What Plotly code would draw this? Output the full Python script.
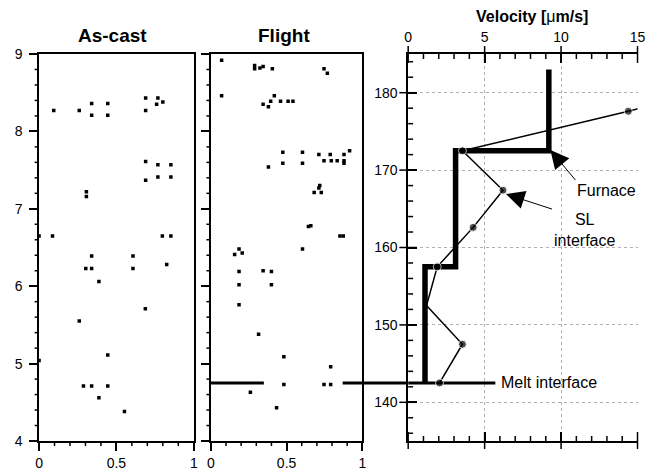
import plotly.graph_objects as go

# ---------------- data ----------------
ascast_x = [0.095, 0.26, 0.34, 0.34, 0.444, 0.444, 0.689, 0.689, 0.768, 0.76, 0.80,
            0.689, 0.689, 0.768, 0.768, 0.852, 0.852, 0.306, 0.306,
            0.0, 0.087, 0.797, 0.852, 0.34, 0.302, 0.34, 0.607, 0.607, 0.825,
            0.387, 0.687, 0.26, 0.444, 0.0, 0.287, 0.34, 0.444, 0.387, 0.552]
ascast_y = [8.27, 8.27, 8.36, 8.21, 8.36, 8.21, 8.43, 8.27, 8.43, 8.35, 8.38,
            7.61, 7.37, 7.57, 7.41, 7.57, 7.41, 7.22, 7.16,
            6.65, 6.65, 6.65, 6.65, 6.39, 6.23, 6.23, 6.39, 6.23, 6.28,
            6.06, 5.71, 5.55, 5.11, 5.04, 4.71, 4.71, 4.71, 4.56, 4.38]

flight_x = [0.071, 0.289, 0.289, 0.324, 0.345, 0.406, 0.747, 0.769,
            0.071, 0.345, 0.38, 0.395, 0.419, 0.46, 0.51, 0.542,
            0.475, 0.475, 0.605, 0.605, 0.38, 0.713, 0.788, 0.747, 0.795, 0.834,
            0.879, 0.879, 0.879, 0.916,
            0.719, 0.713, 0.682, 0.729, 0.644, 0.66, 0.852, 0.874,
            0.157, 0.186, 0.207, 0.605, 0.186, 0.345, 0.40, 0.186, 0.40, 0.186,
            0.315, 0.482, 0.791, 0.482, 0.747, 0.791, 0.261, 0.434]
flight_y = [8.92, 8.85, 8.81, 8.82, 8.84, 8.81, 8.81, 8.75,
            8.46, 8.35, 8.32, 8.39, 8.46, 8.39, 8.39, 8.39,
            7.73, 7.59, 7.73, 7.59, 7.54, 7.70, 7.70, 7.62, 7.62, 7.62,
            7.70, 7.62, 7.59, 7.75,
            7.30, 7.27, 7.21, 7.21, 6.77, 6.78, 6.65, 6.65,
            6.41, 6.48, 6.43, 6.48, 6.19, 6.20, 6.19, 6.02, 6.02, 5.76,
            5.38, 5.09, 4.96, 4.73, 4.73, 4.73, 4.63, 4.43]

furnace_v = [9.2, 9.2, 3.1, 3.1, 1.1, 1.1]
furnace_pos = [183.0, 172.5, 172.5, 157.5, 157.5, 142.5]

sl_v = [14.4, 3.55, 6.2, 4.25, 1.9, 1.2, 3.55, 2.05]
sl_pos = [177.6, 172.5, 167.4, 162.6, 157.5, 152.5, 147.5, 142.5]
sl_marker = [8, 8, 8, 8, 8, 0, 8, 8]
sl_tail_v = [14.4, 15.6]
sl_tail_pos = [177.6, 178.2]

melt_pos = 142.5          # velocity-panel position of melt interface
melt_flight = 4.75        # same position on the flight (mm) scale
melt_flight_seg1 = [0.0, 0.35]
melt_flight_seg2 = [0.87, 1.0]
melt_vel_seg = [0.0, 5.7]

left_major_x = [0, 0.5, 1]
left_major_x_text = ["0", "0.5", "1"]

FONT = "Liberation Sans, Arial, Helvetica, sans-serif"
W, H = 657, 471
ML, MR, MT, MB = 0, 0, 54, 28
PW, PH = W - ML - MR, H - MT - MB

dom1 = [35.7 / W, 193.3 / W]
dom2 = [210.7 / W, 365.0 / W]
dom3 = [411.7 / W, 645.3 / W]
xr_left = [0, 1]
yr_left = [4, 9]
xr_right = [0, 15]
yr_right = [135, 185]


def tick_vals(lo, hi, step, major=None):
    n = int(round((hi - lo) / step))
    vals = [round(lo + i * step, 6) for i in range(n + 1)]
    if major is None:
        return vals
    return [v for v in vals if abs(v / major - round(v / major)) > 1e-6]


def to_px(v, dom, rng):  # axis value -> paper fraction
    return dom[0] + (v - rng[0]) / (rng[1] - rng[0]) * (dom[1] - dom[0])


fig = go.Figure()

fig.add_trace(go.Scatter(x=ascast_x, y=ascast_y, mode="markers", xaxis="x", yaxis="y",
                         marker=dict(symbol="square", size=3.5, color="black"),
                         showlegend=False))
fig.add_trace(go.Scatter(x=flight_x, y=flight_y, mode="markers", xaxis="x2", yaxis="y2",
                         marker=dict(symbol="square", size=3.5, color="black"),
                         showlegend=False))
for seg in (melt_flight_seg1, melt_flight_seg2):
    fig.add_trace(go.Scatter(x=seg, y=[melt_flight] * 2, mode="lines", xaxis="x2", yaxis="y2",
                             line=dict(color="black", width=3), showlegend=False))
fig.add_trace(go.Scatter(x=melt_vel_seg, y=[melt_pos] * 2, mode="lines", xaxis="x3", yaxis="y3",
                         line=dict(color="black", width=3), showlegend=False))
fig.add_trace(go.Scatter(x=furnace_v, y=furnace_pos, mode="lines", xaxis="x3", yaxis="y3",
                         line=dict(color="black", width=5.5), showlegend=False))
fig.add_trace(go.Scatter(x=sl_tail_v, y=sl_tail_pos, mode="lines", xaxis="x3", yaxis="y3",
                         line=dict(color="black", width=1.5), showlegend=False))
fig.add_trace(go.Scatter(x=sl_v, y=sl_pos, mode="lines+markers", xaxis="x3", yaxis="y3",
                         line=dict(color="black", width=1.5),
                         marker=dict(size=sl_marker, color="black"), showlegend=False))

shapes = []
# gap piece of the melt interface line between flight and velocity panels
yp = to_px(melt_flight, [0, 1], yr_left)
shapes.append(dict(type="line", xref="paper", yref="paper", x0=dom2[1], x1=dom3[0], y0=yp, y1=yp,
                   line=dict(color="black", width=3)))


def xtick(v, dom, rng, y0px, y1px):
    x = to_px(v, dom, rng)
    shapes.append(dict(type="line", xref="paper", yref="paper", x0=x, x1=x,
                       y0=y0px / PH, y1=y1px / PH, line=dict(color="black", width=1.5), layer="above"))


def ytick(v, rng, xbase, x0px, x1px):
    y = to_px(v, [0, 1], rng)
    shapes.append(dict(type="line", xref="paper", yref="paper", x0=xbase + x0px / PW,
                       x1=xbase + x1px / PW, y0=y, y1=y,
                       line=dict(color="black", width=1.5), layer="above"))


# minor ticks, left panels
for dom in (dom1, dom2):
    for v in tick_vals(xr_left[0], xr_left[1], 0.1, 0.5):
        xtick(v, dom, xr_left, 0, -5)
    for v in tick_vals(yr_left[0], yr_left[1], 0.2, 1):
        ytick(v, yr_left, dom[0], -4.5, 0)
# velocity panel: minor ticks inside, major ticks crossing the axis lines
for v in tick_vals(xr_right[0], xr_right[1], 1, 5):
    xtick(v, dom3, xr_right, PH, PH - 5)
    xtick(v, dom3, xr_right, 0, 5)
for v in tick_vals(xr_right[0], xr_right[1], 5):
    xtick(v, dom3, xr_right, PH - 9, PH + 8)
    xtick(v, dom3, xr_right, -8, 9)
for v in tick_vals(yr_right[0] + 1, yr_right[1] - 1, 2, 10):
    ytick(v, yr_right, dom3[0], 0, 5)
for v in tick_vals(140, 180, 10):
    ytick(v, yr_right, dom3[0], -9, 9)

tickfont = dict(family=FONT, size=14, color="black")

left_x = dict(range=xr_left, showline=True, linecolor="black", linewidth=1.5, mirror=True,
              ticks="outside", ticklen=8, tickwidth=1.5, tickcolor="black",
              tickmode="array", tickvals=left_major_x, ticktext=left_major_x_text,
              showgrid=False, zeroline=False, tickfont=tickfont)
left_y = dict(range=yr_left, showline=True, linecolor="black", linewidth=1.5, mirror=True,
              ticks="outside", ticklen=8, tickwidth=1.5, tickcolor="black", dtick=1,
              showgrid=False, zeroline=False, tickfont=tickfont)

grid = dict(showgrid=True, gridcolor="#b0b0b0", gridwidth=1, griddash="dot")

fig.update_layout(
    width=W, height=H, margin=dict(l=ML, r=MR, t=MT, b=MB),
    paper_bgcolor="white", plot_bgcolor="white",
    font=dict(family=FONT, color="black"),
    shapes=shapes,
    xaxis=dict(domain=dom1, anchor="y", **left_x),
    yaxis=dict(domain=[0, 1], anchor="x", ticklabelstandoff=4, **left_y),
    xaxis2=dict(domain=dom2, anchor="y2", **left_x),
    yaxis2=dict(domain=[0, 1], anchor="x2", showticklabels=False, **left_y),
    xaxis3=dict(domain=dom3, anchor="y3", side="top", range=xr_right, dtick=5,
                showline=True, linecolor="black", linewidth=1.5, mirror="ticks",
                ticks="inside", ticklen=9, tickwidth=1.5, tickcolor="black",
                zeroline=False, tickfont=tickfont, ticklabelstandoff=5, **grid),
    yaxis3=dict(domain=[0, 1], anchor="x3", side="left", range=yr_right, dtick=10,
                showline=True, linecolor="black", linewidth=1.5,
                ticks="inside", ticklen=9, tickwidth=1.5, tickcolor="black",
                zeroline=False, tickfont=tickfont, ticklabelstandoff=6, **grid),
)

fig.add_annotation(text="<b>As-cast</b>", xref="paper", yref="paper", xanchor="center",
                   x=(dom1[0] + dom1[1]) / 2 - 4 / W, y=1, yshift=19, yanchor="middle",
                   showarrow=False, font=dict(family=FONT, size=19, color="black"))
fig.add_annotation(text="<b>Flight</b>", xref="paper", yref="paper", xanchor="center",
                   x=(dom2[0] + dom2[1]) / 2 - 3 / W, y=1, yshift=19, yanchor="middle",
                   showarrow=False, font=dict(family=FONT, size=19, color="black"))
fig.add_annotation(text="<b>Velocity [</b>μ<b>m/s]</b>", xref="paper", yref="paper", xanchor="center",
                   x=(dom3[0] + dom3[1]) / 2 + 9 / W, y=1, yshift=38, yanchor="middle",
                   showarrow=False, font=dict(family=FONT, size=16, color="black"))

fig.add_annotation(text="Furnace", x=9.3, y=172.6, xref="x3", yref="y3",
                   ax=25, ay=30, xanchor="left", yanchor="top",
                   showarrow=True, arrowhead=2, arrowsize=3.7, arrowwidth=1, arrowcolor="black",
                   font=dict(family=FONT, size=16, color="black"))
fig.add_annotation(text="SL<br>interface", x=6.4, y=166.9, xref="x3", yref="y3",
                   ax=46, ay=15, xanchor="left", yanchor="top", align="center",
                   showarrow=True, arrowhead=2, arrowsize=3.7, arrowwidth=1, arrowcolor="black",
                   font=dict(family=FONT, size=16, color="black"))
fig.add_annotation(text="Melt interface", x=melt_vel_seg[1], y=melt_pos, xref="x3", yref="y3",
                   xanchor="left", yanchor="middle", showarrow=False, xshift=4,
                   font=dict(family=FONT, size=16, color="black"))

fig.write_html("out.html")
